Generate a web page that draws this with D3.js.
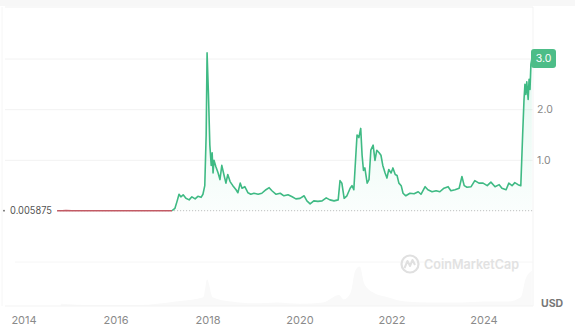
<!DOCTYPE html>
<html>
<head>
<meta charset="utf-8">
<script src="https://cdn.jsdelivr.net/npm/d3@7"></script>
<style>
  html, body { margin: 0; padding: 0; background: #fff; }
  svg { display: block; font-family: Inter, "Noto Sans", sans-serif; }
</style>
</head>
<body>
<svg id="chart" width="575" height="334"></svg>
<script>
// ---- data (decimal year, price in USD) ----
const years = [
  2014.72, 2014.83, 2014.91, 2015.04, 2015.22, 2015.65, 2016.30, 2016.96, 2017.22,
  2017.28, 2017.33, 2017.37, 2017.41, 2017.46, 2017.52, 2017.59, 2017.65, 2017.72, 2017.78, 2017.85, 2017.89, 2017.93, 2017.96,
  2017.98, 2018.01, 2018.04, 2018.07, 2018.09, 2018.11, 2018.13, 2018.17, 2018.22, 2018.26, 2018.30, 2018.35, 2018.39, 2018.43,
  2018.48, 2018.54, 2018.61, 2018.65, 2018.70, 2018.74, 2018.80, 2018.87, 2018.93, 2019.00, 2019.09, 2019.17, 2019.26, 2019.33,
  2019.39, 2019.48, 2019.57, 2019.65, 2019.74, 2019.83, 2019.91, 2020.00, 2020.09, 2020.15, 2020.22, 2020.30, 2020.39, 2020.48,
  2020.57, 2020.65, 2020.74, 2020.83, 2020.87, 2020.91, 2020.96, 2021.02, 2021.09, 2021.13, 2021.17, 2021.22, 2021.24, 2021.28,
  2021.32, 2021.35, 2021.38, 2021.41, 2021.46, 2021.50, 2021.54, 2021.59, 2021.63, 2021.67, 2021.72, 2021.76, 2021.80, 2021.85,
  2021.89, 2021.93, 2021.98, 2022.02, 2022.07, 2022.11, 2022.15, 2022.20, 2022.24, 2022.30, 2022.39, 2022.48, 2022.57, 2022.63,
  2022.72, 2022.78, 2022.87, 2022.96, 2023.04, 2023.13, 2023.22, 2023.28, 2023.37, 2023.46, 2023.52, 2023.57, 2023.63, 2023.72,
  2023.80, 2023.89, 2023.98, 2024.07, 2024.15, 2024.24, 2024.33, 2024.39, 2024.48, 2024.54, 2024.61, 2024.67, 2024.74, 2024.80,
  2024.84, 2024.87, 2024.89, 2024.91, 2024.93, 2024.96, 2024.98, 2025.00, 2025.02, 2025.04
];
const prices = [
  0.0055, 0.0058, 0.012, 0.0057, 0.0055, 0.005, 0.005, 0.0052, 0.0056,
  0.05, 0.2, 0.33, 0.28, 0.32, 0.25, 0.22, 0.28, 0.24, 0.29, 0.27, 0.33, 0.5, 1.5,
  3.12, 2.3, 1.3, 0.9, 1.15, 0.75, 1.0, 0.88, 0.75, 0.62, 0.9, 0.7, 0.55, 0.72,
  0.58, 0.5, 0.42, 0.36, 0.55, 0.45, 0.48, 0.36, 0.33, 0.35, 0.33, 0.35, 0.42, 0.46,
  0.4, 0.33, 0.35, 0.3, 0.32, 0.28, 0.24, 0.25, 0.3, 0.2, 0.14, 0.2, 0.19, 0.2,
  0.26, 0.22, 0.2, 0.22, 0.6, 0.55, 0.25, 0.3, 0.45, 0.5, 0.42, 1.2, 1.5, 1.45,
  1.63, 1.1, 0.8, 0.85, 0.55, 0.62, 1.2, 1.3, 1.0, 1.2, 1.15, 1.1, 0.9, 0.75,
  0.65, 0.82, 0.75, 0.85, 0.72, 0.7, 0.55, 0.5, 0.35, 0.3, 0.35, 0.34, 0.38, 0.33,
  0.48, 0.42, 0.38, 0.4, 0.38, 0.45, 0.48, 0.4, 0.42, 0.45, 0.68, 0.5, 0.47, 0.48,
  0.6, 0.55, 0.55, 0.5, 0.57, 0.48, 0.52, 0.45, 0.42, 0.55, 0.5, 0.56, 0.52, 0.5,
  1.5, 2.2, 2.5, 2.3, 2.55, 2.2, 2.6, 2.4, 2.9, 3.0
];
// rough trading volume (relative units)
const volYears = [2014.8, 2015.5, 2016.5, 2017.3, 2017.9, 2017.98, 2018.1, 2018.5, 2019.0, 2019.5, 2020.0, 2020.5, 2020.85, 2020.95, 2021.1, 2021.2, 2021.3, 2021.4, 2021.6, 2021.9, 2022.3, 2022.8, 2023.5, 2024.0, 2024.5, 2024.8, 2024.9, 2025.04];
const volumes  = [0.5, 0.2, 0.2, 1.0, 2.0, 6.0, 2.0, 1.0, 0.6, 0.8, 0.5, 0.8, 2.5, 1.5, 3.0, 8.0, 9.0, 5.0, 3.0, 2.0, 1.0, 0.8, 0.8, 1.0, 1.0, 2.0, 6.0, 8.0];
const startPrice = 0.005875;
const xTicks = [2014, 2016, 2018, 2020, 2022, 2024];
const yTicks = [1.0, 2.0];
const lastLabel = "3.0";
const currency = "USD";

// ---- drawing ----
const svg = d3.select("#chart");
const data = years.map((t, i) => ({ t, v: prices[i] }));

const x = d3.scaleLinear().domain([2014, 2024]).range([24, 484]);
const y = d3.scaleLinear().domain([0, 3]).range([211, 59]);
const yVol = d3.scaleLinear().domain([0, 10]).range([306, 262]);
const plotLeft = 5, plotRight = 533;

// faint frame / background
svg.append("rect").attr("x", 0).attr("y", 0).attr("width", 575).attr("height", 6).attr("fill", "#f7f7f7");
svg.append("line").attr("x1", plotLeft).attr("x2", plotRight).attr("y1", 7).attr("y2", 7).attr("stroke", "#f1f1f1");
svg.append("line").attr("x1", plotRight).attr("x2", plotRight).attr("y1", 7).attr("y2", 306).attr("stroke", "#f3f3f3");
svg.append("line").attr("x1", 2).attr("x2", 2).attr("y1", 7).attr("y2", 306).attr("stroke", "#f6f6f6");

// gridlines
svg.append("g").selectAll("line").data([1, 2, 3]).join("line")
  .attr("x1", plotLeft).attr("x2", plotRight)
  .attr("y1", d => y(d)).attr("y2", d => y(d))
  .attr("stroke", "#f2f2f2");

// volume
svg.append("line").attr("x1", 15).attr("x2", plotRight).attr("y1", 262).attr("y2", 262).attr("stroke", "#f6f6f6");
const volData = volYears.map((t, i) => ({ t, v: volumes[i] }));
svg.append("path").datum(volData)
  .attr("fill", "#f9f9f9")
  .attr("d", d3.area().x(d => x(d.t)).y0(yVol(0)).y1(d => yVol(d.v)).curve(d3.curveMonotoneX));
svg.append("line").attr("x1", plotLeft).attr("x2", plotRight).attr("y1", 306).attr("y2", 306).attr("stroke", "#f3f3f3");

// watermark
const wm = svg.append("g");
wm.append("circle").attr("cx", 410).attr("cy", 264).attr("r", 8.5).attr("fill", "none").attr("stroke", "#e0e0e0").attr("stroke-width", 2.2);
wm.append("path").attr("d", "M404.5,268 L407.5,261 L410,266 L412.5,260 L415,265")
  .attr("fill", "none").attr("stroke", "#e0e0e0").attr("stroke-width", 2).attr("stroke-linejoin", "round");
wm.append("text").attr("x", 424).attr("y", 264).attr("dy", "0.35em")
  .attr("font-size", 13).attr("font-weight", 600).attr("fill", "#e2e2e2")
  .attr("textLength", 95).attr("lengthAdjust", "spacingAndGlyphs")
  .text("CoinMarketCap");

// area gradient
const defs = svg.append("defs");
const grad = defs.append("linearGradient").attr("id", "g").attr("x1", 0).attr("y1", 0).attr("x2", 0).attr("y2", 1);
grad.append("stop").attr("offset", "0%").attr("stop-color", "#16c784").attr("stop-opacity", 0.12);
grad.append("stop").attr("offset", "100%").attr("stop-color", "#16c784").attr("stop-opacity", 0.02);

const splitIdx = data.findIndex(d => d.v > 0.02) - 1;
const early = data.slice(0, splitIdx + 1);
const later = data.slice(splitIdx);

svg.append("path").datum(later)
  .attr("fill", "url(#g)")
  .attr("d", d3.area().x(d => x(d.t)).y0(y(startPrice)).y1(d => y(d.v)));

// start-price dotted line
svg.append("line")
  .attr("x1", x(years[0])).attr("x2", plotRight)
  .attr("y1", y(startPrice)).attr("y2", y(startPrice))
  .attr("stroke", "#b8b8b8").attr("stroke-dasharray", "1,2");

// price lines
svg.append("path").datum(early)
  .attr("fill", "none").attr("stroke", "#c25a64").attr("stroke-width", 1.5)
  .attr("d", d3.line().x(d => x(d.t)).y(d => y(d.v)));
svg.append("path").datum(later)
  .attr("fill", "none").attr("stroke", "#3fba84").attr("stroke-width", 1.6).attr("stroke-linejoin", "round")
  .attr("d", d3.line().x(d => x(d.t)).y(d => y(d.v)));

// start price label
svg.append("circle").attr("cx", 4).attr("cy", y(startPrice)).attr("r", 0.9).attr("fill", "#666");
svg.append("text").attr("x", 10).attr("y", y(startPrice)).attr("dy", "0.35em")
  .attr("font-size", 10.5).attr("fill", "#555")
  .attr("textLength", 42).attr("lengthAdjust", "spacingAndGlyphs")
  .text(startPrice.toString());

// y axis labels
svg.append("g").selectAll("text").data(yTicks).join("text")
  .attr("x", 537).attr("y", d => y(d)).attr("dy", "0.35em")
  .attr("font-size", 10.5).attr("fill", "#888")
  .text(d => d3.format(".1f")(d));

// last price badge
const last = data[data.length - 1];
svg.append("rect").attr("x", 531).attr("y", y(last.v) - 10).attr("width", 25).attr("height", 19).attr("rx", 3).attr("fill", "#4dbd88");
svg.append("text").attr("x", 543.5).attr("y", y(last.v) - 0.5).attr("dy", "0.35em")
  .attr("text-anchor", "middle").attr("font-size", 10.5).attr("fill", "#fff").text(lastLabel);

// x axis labels
svg.append("g").selectAll("text").data(xTicks).join("text")
  .attr("x", d => x(d)).attr("y", 320).attr("dy", "0.35em")
  .attr("text-anchor", "middle").attr("font-size", 11).attr("fill", "#8a8a8a")
  .text(d => d);

// currency
svg.append("text").attr("x", 541).attr("y", 303).attr("dy", "0.35em")
  .attr("font-size", 10.5).attr("font-weight", 700).attr("fill", "#777").text(currency);
</script>
</body>
</html>
